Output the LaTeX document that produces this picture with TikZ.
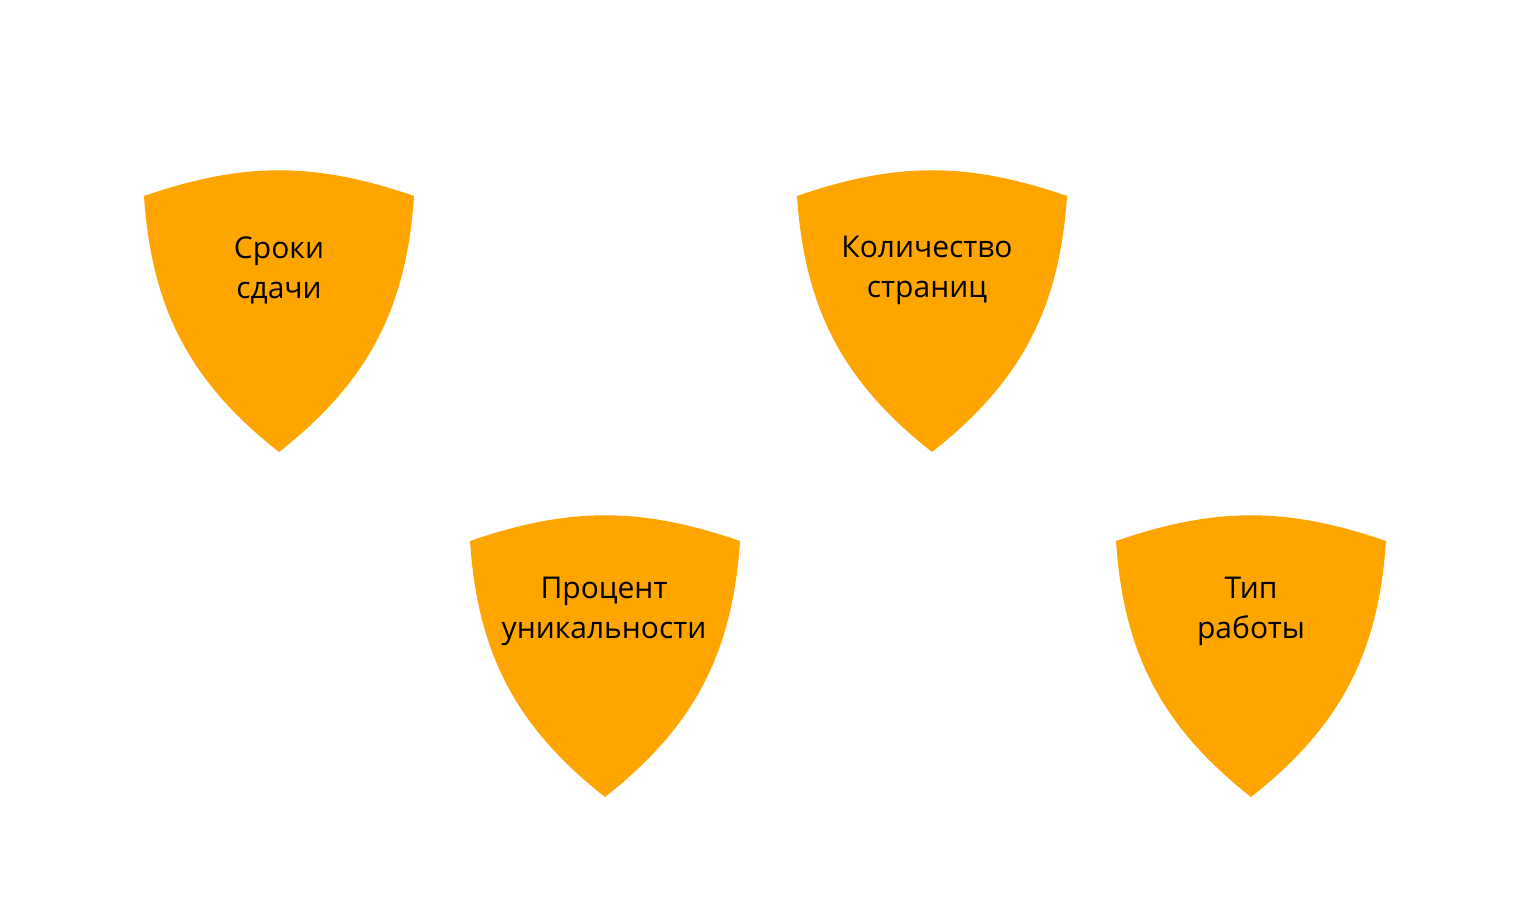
\documentclass[tikz,border=0pt]{standalone}
\usepackage{fontspec}
\setmainfont{Open Sans}
\definecolor{shieldorange}{HTML}{FFA500}

\begin{document}
\begin{tikzpicture}
[x=0.5pt,y=-0.5pt,
 shield/.style={fill=shieldorange,draw=none},
 label/.style={align=center,font=\fontsize{15pt}{20pt}\selectfont,inner sep=0pt}]
\useasboundingbox (0,0) rectangle (1531,909);
\foreach \name/\cx/\top/\tx/\ty/\txt in {srok/279/171/279/270/{Сроки\\сдачи},
  pages/932/171/927/270/{Количество\\страниц},
  uniq/605/516/604/611/{Процент\\уникальности},
  type/1251/516/1251/611/{Тип\\работы}}
{
\fill[shield] (\cx-135,\top+25) to[bend left=19] (\cx+135,\top+25)
  to[bend left=24] (\cx,\top+281) to[bend left=24] cycle;
\node[label] (\name) at (\tx,\ty) {\txt};
}
\end{tikzpicture}
\end{document}
